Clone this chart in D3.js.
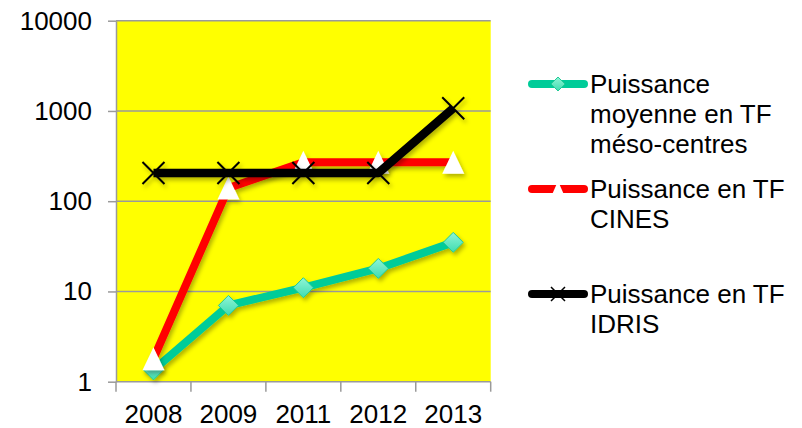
<!DOCTYPE html>
<html>
<head>
<meta charset="utf-8">
<script src="https://cdn.jsdelivr.net/npm/d3@7"></script>
<style>
  html, body { margin: 0; padding: 0; background: #ffffff; }
  svg { display: block; font-family: "Liberation Sans", Arial, sans-serif; }
</style>
</head>
<body>
<svg id="chart" width="802" height="428"></svg>
<script>
// Years on the horizontal axis
const years = ["2008", "2009", "2011", "2012", "2013"];
// Computing power in teraflops per year
const mesoValues = [1.35, 7, 11, 18, 35];
const cinesValues = [1.8, 140, 270, 270, 270];
const idrisValues = [205, 205, 205, 205, 1070];
// Log axis ticks
const yTicks = [1, 10, 100, 1000, 10000];
// Legend labels (one array of lines per series)
const legendLabels = [
  ["Puissance", "moyenne en TF", "méso-centres"],
  ["Puissance en TF", "CINES"],
  ["Puissance en TF", "IDRIS"]
];

const svg = d3.select("#chart");
const plot = { left: 116, right: 490.7, top: 20.7, bottom: 381.7 };

const x = d3.scaleBand().domain(years).range([plot.left, plot.right]);
const y = d3.scaleLog().domain([1, 10000]).range([plot.bottom, plot.top]);
const cx = d => x(d) + x.bandwidth() / 2;

// Drop shadow used on lines and markers
const defs = svg.append("defs");
const f = defs.append("filter").attr("id", "shadow")
  .attr("x", "-20%").attr("y", "-20%").attr("width", "140%").attr("height", "140%");
f.append("feDropShadow").attr("dx", 2).attr("dy", 3).attr("stdDeviation", 2)
  .attr("flood-color", "#000").attr("flood-opacity", 0.3);
const g = defs.append("linearGradient").attr("id", "diamondFill")
  .attr("x1", 0).attr("y1", 0).attr("x2", 0).attr("y2", 1);
g.append("stop").attr("offset", "0%").attr("stop-color", "#8ff5d6");
g.append("stop").attr("offset", "100%").attr("stop-color", "#3fdcb0");

// Plot background
svg.append("rect")
  .attr("x", plot.left).attr("y", plot.top)
  .attr("width", plot.right - plot.left).attr("height", plot.bottom - plot.top)
  .attr("fill", "#ffff00");

// Horizontal gridlines
svg.append("g").selectAll("line").data(yTicks.slice(1)).join("line")
  .attr("x1", plot.left).attr("x2", plot.right)
  .attr("y1", d => y(d)).attr("y2", d => y(d))
  .attr("stroke", "#9a9a9a").attr("stroke-width", 1.5);

// Y axis
const yAxis = svg.append("g")
  .attr("transform", `translate(${plot.left},0)`)
  .call(d3.axisLeft(y).tickValues(yTicks).tickFormat(d3.format("d"))
    .tickSize(8).tickSizeOuter(0).tickPadding(16));
yAxis.select(".domain").attr("stroke", "#9a9a9a").attr("stroke-width", 1.5);
yAxis.selectAll(".tick line").attr("stroke", "#9a9a9a").attr("stroke-width", 1.5);
yAxis.selectAll(".tick text").attr("font-size", 26).attr("fill", "#000")
  .attr("font-family", "Liberation Sans, Arial, sans-serif");

// X axis: baseline, boundary ticks and centred labels
const xg = svg.append("g");
xg.append("line").attr("x1", plot.left).attr("x2", plot.right)
  .attr("y1", plot.bottom).attr("y2", plot.bottom)
  .attr("stroke", "#9a9a9a").attr("stroke-width", 1.5);
const bounds = years.map(d => x(d)).concat([x.range()[1]]);
xg.selectAll("line.tick").data(bounds).join("line").attr("class", "tick")
  .attr("x1", d => d).attr("x2", d => d)
  .attr("y1", plot.bottom).attr("y2", plot.bottom + 10)
  .attr("stroke", "#9a9a9a").attr("stroke-width", 1.5);
xg.selectAll("text").data(years).join("text")
  .attr("x", d => cx(d)).attr("y", 422.5)
  .attr("text-anchor", "middle").attr("font-size", 26).attr("fill", "#000")
  .text(d => d);

// Marker shapes
const diamond = (s) => `M0,${-s}L${s},0L0,${s}L${-s},0Z`;
const triangle = (w, h) => `M0,${-h / 2}L${w / 2},${h / 2}L${-w / 2},${h / 2}Z`;
const cross = (s) => `M${-s},${-s}L${s},${s}M${-s},${s}L${s},${-s}`;

const line = d3.line().x(d => cx(d.year)).y(d => y(d.value));
const pts = vals => years.map((yr, i) => ({ year: yr, value: vals[i] }));

// Series 1: méso-centres
const s1 = svg.append("g").attr("filter", "url(#shadow)");
s1.append("path").datum(pts(mesoValues)).attr("d", line)
  .attr("fill", "none").attr("stroke", "#00cc99").attr("stroke-width", 8)
  .attr("stroke-linejoin", "round");
s1.selectAll("path.m").data(pts(mesoValues)).join("path").attr("class", "m")
  .attr("transform", d => `translate(${cx(d.year)},${y(d.value)})`)
  .attr("d", diamond(10)).attr("fill", "url(#diamondFill)")
  .attr("stroke", "#22c996").attr("stroke-width", 1);

// Series 2: CINES
const s2 = svg.append("g").attr("filter", "url(#shadow)");
s2.append("path").datum(pts(cinesValues)).attr("d", line)
  .attr("fill", "none").attr("stroke", "#ff0000").attr("stroke-width", 8)
  .attr("stroke-linejoin", "round");
s2.selectAll("path.m").data(pts(cinesValues)).join("path").attr("class", "m")
  .attr("transform", d => `translate(${cx(d.year)},${y(d.value)})`)
  .attr("d", triangle(22, 23)).attr("fill", "#ffffff");

// Series 3: IDRIS
const s3 = svg.append("g").attr("filter", "url(#shadow)");
s3.append("path").datum(pts(idrisValues)).attr("d", line)
  .attr("fill", "none").attr("stroke", "#000000").attr("stroke-width", 8.5)
  .attr("stroke-linejoin", "round");
s3.selectAll("path.m").data(pts(idrisValues)).join("path").attr("class", "m")
  .attr("transform", d => `translate(${cx(d.year)},${y(d.value)})`)
  .attr("d", cross(11)).attr("fill", "none")
  .attr("stroke", "#000").attr("stroke-width", 2);

// Legend
const legendY = [84, 189, 294];
const legendColors = ["#00cc99", "#ff0000", "#000000"];
const lg = svg.append("g");
legendY.forEach((ly, i) => {
  lg.append("line").attr("x1", 532).attr("x2", 584).attr("y1", ly).attr("y2", ly)
    .attr("stroke", legendColors[i]).attr("stroke-width", 8).attr("stroke-linecap", "round");
  const m = lg.append("path").attr("transform", `translate(558,${ly})`);
  if (i === 0) m.attr("d", diamond(7)).attr("fill", "url(#diamondFill)").attr("stroke", "#22c996");
  if (i === 1) m.attr("d", triangle(14, 16)).attr("fill", "#ffffff");
  if (i === 2) m.attr("d", cross(7)).attr("fill", "none").attr("stroke", "#000").attr("stroke-width", 1.5);
  const t = lg.append("text").attr("x", 590).attr("y", ly + 9)
    .attr("font-size", 26).attr("fill", "#000");
  legendLabels[i].forEach((s, j) => {
    t.append("tspan").attr("x", 590).attr("dy", j === 0 ? 0 : 30).text(s);
  });
});
</script>
</body>
</html>
